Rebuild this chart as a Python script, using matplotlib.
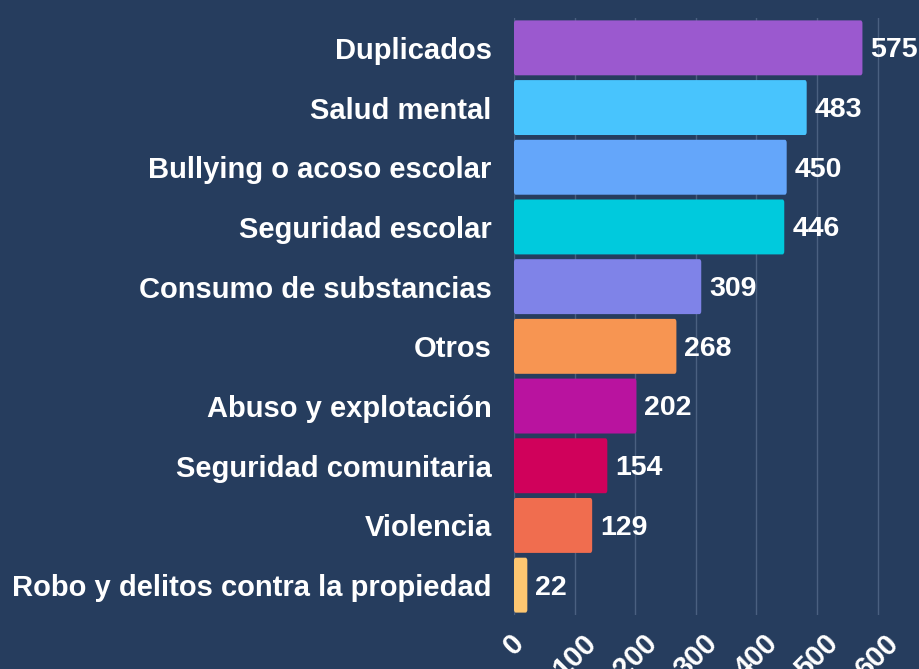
import matplotlib
matplotlib.use("Agg")
import matplotlib.pyplot as plt
from matplotlib.patches import FancyBboxPatch

categories = [
    "Duplicados", "Salud mental", "Bullying o acoso escolar", "Seguridad escolar",
    "Consumo de substancias", "Otros", "Abuso y explotación",
    "Seguridad comunitaria", "Violencia", "Robo y delitos contra la propiedad",
]
values = [575, 483, 450, 446, 309, 268, 202, 154, 129, 22]
colors = [
    "#9b59cf", "#48c4fd", "#64a6fa", "#00cadd", "#7f83e8",
    "#f79552", "#b9139f", "#d0015b", "#f06d4f", "#fec771",
]
xticks = [0, 100, 200, 300, 400, 500, 600]

bg = "#263d5e"
plt.rcParams["font.family"] = ["Liberation Sans", "DejaVu Sans"]

fig = plt.figure(figsize=(9.2, 6.69), dpi=100, facecolor=bg)
ax = fig.add_axes([514 / 920, 1 - 615 / 669, 1 - 514 / 920, 597 / 669])
ax.set_facecolor(bg)

ypos = list(range(len(categories)))
bars = ax.barh(ypos, values, height=0.92, color=colors, zorder=2)
ax.set_ylim(len(categories) - 0.5, -0.5)
ax.set_xlim(0, 670)

# round the bar corners a little
for b in bars:
    x0, y0 = b.get_x(), b.get_y()
    w, h = b.get_width(), b.get_height()
    b.set_visible(False)
    rp = FancyBboxPatch((x0, y0), w, h,
                        boxstyle="round,pad=0,rounding_size=3",
                        mutation_aspect=0.017,
                        facecolor=b.get_facecolor(), edgecolor="none", zorder=2)
    ax.add_patch(rp)

for y, v in zip(ypos, values):
    ax.text(v + 13, y + 0.04, str(v), color="white", fontsize=20.5,
            fontweight="bold", va="center", ha="left", zorder=3, clip_on=False)

ax.set_yticks(ypos)
ax.set_yticklabels(categories, color="white", fontsize=21, fontweight="bold")
ax.set_xticks(xticks)
ax.set_xticklabels([str(t) for t in xticks], color="white", fontsize=21,
                   fontweight="bold", rotation=45, ha="center", va="top")
ax.tick_params(axis="y", length=0, pad=16)
ax.tick_params(axis="x", length=0, pad=10)
ax.grid(axis="x", color="#4a6080", linewidth=1, zorder=0)
for s in ax.spines.values():
    s.set_visible(False)

fig.savefig("out.png", dpi=100, facecolor=bg)
